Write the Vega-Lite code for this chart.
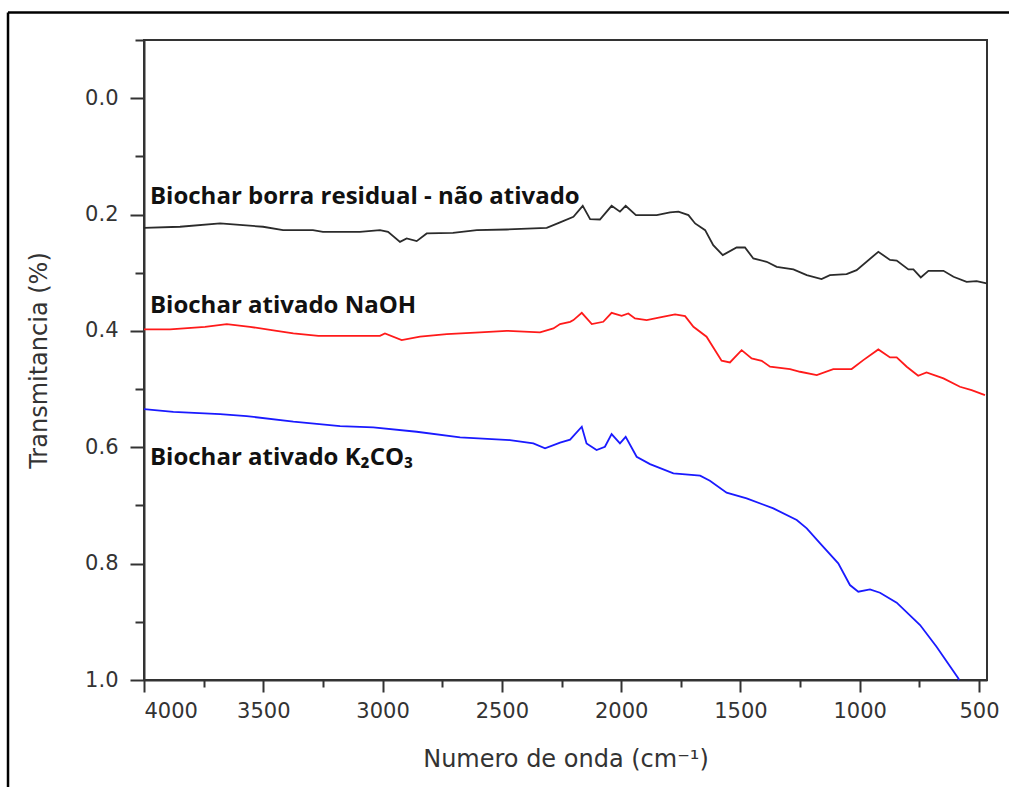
{
  "$schema": "https://vega.github.io/schema/vega-lite/v6.json",
  "width": 843,
  "height": 640,
  "autosize": {"type": "none"},
  "padding": {"left": 144, "top": 40, "right": 22, "bottom": 107},
  "background": "white",
  "config": {
    "view": {"stroke": "#333333", "strokeWidth": 2},
    "axis": {
      "labelFont": "DejaVu Sans", "titleFont": "DejaVu Sans",
      "labelColor": "#333333", "titleColor": "#333333",
      "domainColor": "#333333", "tickColor": "#333333",
      "domainWidth": 2, "tickWidth": 2, "grid": false,
      "labelFontSize": 21, "titleFontSize": 24, "titleFontWeight": "normal"
    }
  },
  "datasets": {
    "one": [{"k": 1}],
    "ftir": [
      {"s": "A", "wn": 4000, "t": 0.223}, {"s": "A", "wn": 3849, "t": 0.221}, {"s": "A", "wn": 3681, "t": 0.2153},
      {"s": "A", "wn": 3501, "t": 0.221}, {"s": "A", "wn": 3417, "t": 0.2268}, {"s": "A", "wn": 3292, "t": 0.2268},
      {"s": "A", "wn": 3250, "t": 0.2297}, {"s": "A", "wn": 3095, "t": 0.2297}, {"s": "A", "wn": 3011, "t": 0.2268},
      {"s": "A", "wn": 2977, "t": 0.2297}, {"s": "A", "wn": 2927, "t": 0.247}, {"s": "A", "wn": 2899, "t": 0.241},
      {"s": "A", "wn": 2857, "t": 0.2457}, {"s": "A", "wn": 2815, "t": 0.2325}, {"s": "A", "wn": 2705, "t": 0.2314},
      {"s": "A", "wn": 2605, "t": 0.2268}, {"s": "A", "wn": 2480, "t": 0.2257}, {"s": "A", "wn": 2312, "t": 0.2228},
      {"s": "A", "wn": 2256, "t": 0.2135}, {"s": "A", "wn": 2200, "t": 0.204}, {"s": "A", "wn": 2161, "t": 0.185},
      {"s": "A", "wn": 2130, "t": 0.208}, {"s": "A", "wn": 2089, "t": 0.2085}, {"s": "A", "wn": 2040, "t": 0.185},
      {"s": "A", "wn": 2005, "t": 0.195}, {"s": "A", "wn": 1981, "t": 0.185}, {"s": "A", "wn": 1938, "t": 0.201},
      {"s": "A", "wn": 1851, "t": 0.201}, {"s": "A", "wn": 1795, "t": 0.1964}, {"s": "A", "wn": 1760, "t": 0.195},
      {"s": "A", "wn": 1718, "t": 0.201}, {"s": "A", "wn": 1690, "t": 0.2153}, {"s": "A", "wn": 1648, "t": 0.2268},
      {"s": "A", "wn": 1614, "t": 0.2526}, {"s": "A", "wn": 1574, "t": 0.2698}, {"s": "A", "wn": 1516, "t": 0.2566},
      {"s": "A", "wn": 1481, "t": 0.2566}, {"s": "A", "wn": 1446, "t": 0.2755}, {"s": "A", "wn": 1390, "t": 0.2812},
      {"s": "A", "wn": 1348, "t": 0.2898}, {"s": "A", "wn": 1278, "t": 0.2944}, {"s": "A", "wn": 1222, "t": 0.3041},
      {"s": "A", "wn": 1160, "t": 0.311}, {"s": "A", "wn": 1125, "t": 0.3041}, {"s": "A", "wn": 1055, "t": 0.3024},
      {"s": "A", "wn": 1013, "t": 0.2955}, {"s": "A", "wn": 922, "t": 0.264}, {"s": "A", "wn": 873, "t": 0.278},
      {"s": "A", "wn": 845, "t": 0.279}, {"s": "A", "wn": 796, "t": 0.2944}, {"s": "A", "wn": 775, "t": 0.2944},
      {"s": "A", "wn": 744, "t": 0.308}, {"s": "A", "wn": 712, "t": 0.2967}, {"s": "A", "wn": 649, "t": 0.2967},
      {"s": "A", "wn": 607, "t": 0.307}, {"s": "A", "wn": 552, "t": 0.3156}, {"s": "A", "wn": 510, "t": 0.3144},
      {"s": "A", "wn": 468, "t": 0.3184},
      {"s": "B", "wn": 4000, "t": 0.3975}, {"s": "B", "wn": 3891, "t": 0.3975}, {"s": "B", "wn": 3744, "t": 0.393},
      {"s": "B", "wn": 3653, "t": 0.3883}, {"s": "B", "wn": 3556, "t": 0.393}, {"s": "B", "wn": 3444, "t": 0.3998},
      {"s": "B", "wn": 3374, "t": 0.4043}, {"s": "B", "wn": 3269, "t": 0.4084}, {"s": "B", "wn": 3011, "t": 0.4084},
      {"s": "B", "wn": 2990, "t": 0.4043}, {"s": "B", "wn": 2920, "t": 0.4158}, {"s": "B", "wn": 2843, "t": 0.41},
      {"s": "B", "wn": 2731, "t": 0.4055}, {"s": "B", "wn": 2592, "t": 0.4026}, {"s": "B", "wn": 2480, "t": 0.3998},
      {"s": "B", "wn": 2340, "t": 0.4026}, {"s": "B", "wn": 2284, "t": 0.3957}, {"s": "B", "wn": 2256, "t": 0.3883},
      {"s": "B", "wn": 2214, "t": 0.3843}, {"s": "B", "wn": 2200, "t": 0.3814}, {"s": "B", "wn": 2165, "t": 0.3689},
      {"s": "B", "wn": 2123, "t": 0.3883}, {"s": "B", "wn": 2075, "t": 0.3843}, {"s": "B", "wn": 2040, "t": 0.3689},
      {"s": "B", "wn": 1998, "t": 0.374}, {"s": "B", "wn": 1970, "t": 0.37}, {"s": "B", "wn": 1942, "t": 0.3786},
      {"s": "B", "wn": 1893, "t": 0.3814}, {"s": "B", "wn": 1837, "t": 0.3769}, {"s": "B", "wn": 1774, "t": 0.3717},
      {"s": "B", "wn": 1732, "t": 0.3746}, {"s": "B", "wn": 1697, "t": 0.393}, {"s": "B", "wn": 1642, "t": 0.41},
      {"s": "B", "wn": 1579, "t": 0.4513}, {"s": "B", "wn": 1544, "t": 0.4542}, {"s": "B", "wn": 1495, "t": 0.433},
      {"s": "B", "wn": 1453, "t": 0.4473}, {"s": "B", "wn": 1411, "t": 0.4513}, {"s": "B", "wn": 1376, "t": 0.4616},
      {"s": "B", "wn": 1292, "t": 0.4656}, {"s": "B", "wn": 1250, "t": 0.4702}, {"s": "B", "wn": 1180, "t": 0.476},
      {"s": "B", "wn": 1111, "t": 0.4656}, {"s": "B", "wn": 1034, "t": 0.4656}, {"s": "B", "wn": 985, "t": 0.4502},
      {"s": "B", "wn": 922, "t": 0.4318}, {"s": "B", "wn": 873, "t": 0.4456}, {"s": "B", "wn": 845, "t": 0.4456},
      {"s": "B", "wn": 803, "t": 0.4616}, {"s": "B", "wn": 755, "t": 0.4771}, {"s": "B", "wn": 720, "t": 0.4714},
      {"s": "B", "wn": 649, "t": 0.4817}, {"s": "B", "wn": 580, "t": 0.496}, {"s": "B", "wn": 531, "t": 0.5017},
      {"s": "B", "wn": 475, "t": 0.5103},
      {"s": "C", "wn": 4000, "t": 0.5344}, {"s": "C", "wn": 3877, "t": 0.539}, {"s": "C", "wn": 3681, "t": 0.543},
      {"s": "C", "wn": 3570, "t": 0.5464}, {"s": "C", "wn": 3374, "t": 0.556}, {"s": "C", "wn": 3178, "t": 0.5636},
      {"s": "C", "wn": 3039, "t": 0.5658}, {"s": "C", "wn": 2857, "t": 0.5733}, {"s": "C", "wn": 2675, "t": 0.583},
      {"s": "C", "wn": 2466, "t": 0.5876}, {"s": "C", "wn": 2368, "t": 0.5933}, {"s": "C", "wn": 2319, "t": 0.6019},
      {"s": "C", "wn": 2256, "t": 0.5919}, {"s": "C", "wn": 2214, "t": 0.587}, {"s": "C", "wn": 2165, "t": 0.5647},
      {"s": "C", "wn": 2145, "t": 0.5933}, {"s": "C", "wn": 2103, "t": 0.6048}, {"s": "C", "wn": 2068, "t": 0.5991},
      {"s": "C", "wn": 2040, "t": 0.5773}, {"s": "C", "wn": 2005, "t": 0.5933}, {"s": "C", "wn": 1981, "t": 0.582},
      {"s": "C", "wn": 1935, "t": 0.6163}, {"s": "C", "wn": 1879, "t": 0.6289}, {"s": "C", "wn": 1781, "t": 0.6449},
      {"s": "C", "wn": 1669, "t": 0.6489}, {"s": "C", "wn": 1628, "t": 0.6575}, {"s": "C", "wn": 1558, "t": 0.6781},
      {"s": "C", "wn": 1474, "t": 0.6878}, {"s": "C", "wn": 1362, "t": 0.705}, {"s": "C", "wn": 1264, "t": 0.7251},
      {"s": "C", "wn": 1222, "t": 0.7394}, {"s": "C", "wn": 1166, "t": 0.7651}, {"s": "C", "wn": 1090, "t": 0.7995},
      {"s": "C", "wn": 1041, "t": 0.8368}, {"s": "C", "wn": 1006, "t": 0.8482}, {"s": "C", "wn": 957, "t": 0.8442},
      {"s": "C", "wn": 915, "t": 0.85}, {"s": "C", "wn": 845, "t": 0.8671}, {"s": "C", "wn": 747, "t": 0.9055},
      {"s": "C", "wn": 678, "t": 0.9427}, {"s": "C", "wn": 587, "t": 0.997}, {"s": "C", "wn": 583, "t": 1.0}
    ]
  },
  "resolve": {"axis": {"x": "independent", "y": "independent"}},
  "layer": [
    {
      "data": {"name": "ftir"},
      "mark": {"type": "line", "strokeWidth": 1.8},
      "encoding": {
        "x": {
          "field": "wn", "type": "quantitative",
          "scale": {"domain": [466.5, 4000], "reverse": true, "nice": false, "zero": false},
          "axis": {
            "orient": "bottom", "values": [500, 1000, 1500, 2000, 2500, 3000, 3500, 4000],
            "format": "d", "tickSize": 12, "labelPadding": 8,
            "title": "Numero de onda (cm⁻¹)", "titlePadding": 26
          }
        },
        "y": {
          "field": "t", "type": "quantitative",
          "scale": {"domain": [-0.1, 1.0], "reverse": true, "nice": false, "zero": false},
          "axis": {
            "orient": "left", "values": [0, 0.2, 0.4, 0.6, 0.8, 1.0],
            "format": ".1f", "tickSize": 14, "labelPadding": 12,
            "title": "Transmitancia (%)", "titlePadding": 33
          }
        },
        "color": {
          "field": "s", "type": "nominal",
          "scale": {"domain": ["A", "B", "C"], "range": ["#2b2b2b", "#ff1a1a", "#1a1aff"]},
          "legend": null
        }
      }
    },
    {
      "data": {"name": "ftir"},
      "mark": {"type": "point", "opacity": 0},
      "encoding": {
        "x": {
          "field": "wn", "type": "quantitative",
          "axis": {
            "orient": "bottom", "values": [750, 1250, 1750, 2250, 2750, 3250, 3750],
            "labels": false, "domain": false, "tickSize": 7, "title": null
          }
        },
        "y": {
          "field": "t", "type": "quantitative",
          "axis": {
            "orient": "left", "values": [-0.1, 0.1, 0.3, 0.5, 0.7, 0.9],
            "labels": false, "domain": false, "tickSize": 9, "title": null
          }
        }
      }
    },
    {
      "data": {"name": "one"},
      "mark": {"type": "text", "text": "Biochar borra residual - não ativado", "align": "left", "baseline": "middle", "font": "Open Sans", "fontWeight": "bold", "fontSize": 24, "color": "#111111"},
      "encoding": {
        "x": {"datum": 3975, "type": "quantitative", "axis": null},
        "y": {"datum": 0.17, "type": "quantitative", "axis": null}
      }
    },
    {
      "data": {"name": "one"},
      "mark": {"type": "text", "text": "Biochar ativado NaOH", "align": "left", "baseline": "middle", "font": "Open Sans", "fontWeight": "bold", "fontSize": 24, "color": "#111111"},
      "encoding": {
        "x": {"datum": 3975, "type": "quantitative", "axis": null},
        "y": {"datum": 0.358, "type": "quantitative", "axis": null}
      }
    },
    {
      "data": {"name": "one"},
      "mark": {"type": "text", "text": "Biochar ativado K₂CO₃", "align": "left", "baseline": "middle", "font": "Open Sans", "fontWeight": "bold", "fontSize": 24, "color": "#111111"},
      "encoding": {
        "x": {"datum": 3975, "type": "quantitative", "axis": null},
        "y": {"datum": 0.619, "type": "quantitative", "axis": null}
      }
    },
    {
      "data": {"name": "one"},
      "mark": {"type": "rule", "color": "#000000", "strokeWidth": 2.5},
      "encoding": {
        "x": {"datum": 4570, "type": "quantitative", "axis": null},
        "x2": {"datum": 300},
        "y": {"datum": -0.1473, "type": "quantitative", "axis": null}
      }
    },
    {
      "data": {"name": "one"},
      "mark": {"type": "rule", "color": "#000000", "strokeWidth": 2.5},
      "encoding": {
        "x": {"datum": 4570, "type": "quantitative", "axis": null},
        "y": {"datum": -0.1473, "type": "quantitative", "axis": null},
        "y2": {"datum": 1.3}
      }
    }
  ]
}
